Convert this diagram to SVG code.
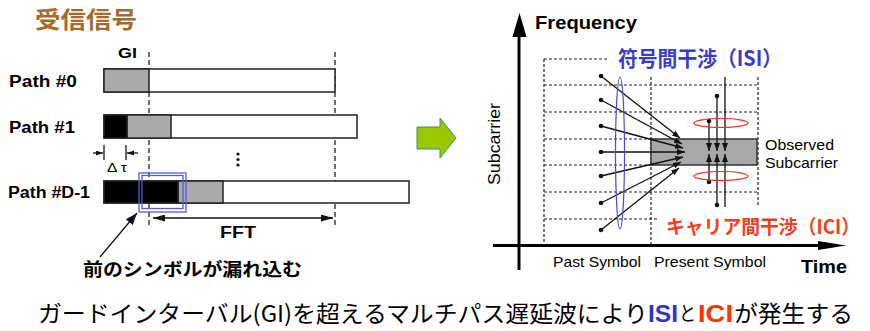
<svg xmlns="http://www.w3.org/2000/svg" width="870" height="331" viewBox="0 0 870 331">
<style>
.lat{font-family:"Liberation Sans",Arial,sans-serif}
.jp{font-family:"Noto Sans CJK JP","Noto Sans",sans-serif}
.b{font-weight:bold}
.bar{stroke:#222;stroke-width:1.5}
.dash{stroke:#222;stroke-width:1.2;stroke-dasharray:3,2;fill:none}
.vdash{stroke:#222;stroke-width:1.3;stroke-dasharray:5,3;fill:none}
.ln{stroke:#111;stroke-width:1.3;fill:none}
.dot{fill:#111}
</style>
<defs>
<marker id="ah" markerUnits="userSpaceOnUse" markerWidth="9" markerHeight="7" refX="8" refY="3" orient="auto">
<path d="M0,0 L8,3 L0,6 z" fill="#111"/>
</marker>
<marker id="ahs" markerUnits="userSpaceOnUse" markerWidth="8" markerHeight="6" refX="7" refY="2.5" orient="auto">
<path d="M0,0 L7,2.5 L0,5 z" fill="#111"/>
</marker>
<marker id="ahb" markerUnits="userSpaceOnUse" markerWidth="13" markerHeight="8" refX="12" refY="3.5" orient="auto">
<path d="M0,0 L12,3.5 L0,7 z" fill="#111"/>
</marker>
<marker id="ahbs" markerUnits="userSpaceOnUse" markerWidth="13" markerHeight="8" refX="0" refY="3.5" orient="auto">
<path d="M12,0 L0,3.5 L12,7 z" fill="#111"/>
</marker>
<marker id="ahp" markerUnits="userSpaceOnUse" markerWidth="13" markerHeight="10" refX="12" refY="4.5" orient="auto">
<path d="M0,0 L12,4.5 L0,9 z" fill="#111"/>
</marker>
</defs>

<text class="jp b" x="35" y="28" font-size="23" fill="#a66a2e" textLength="102" lengthAdjust="spacingAndGlyphs">受信信号</text>

<!-- left: received signal paths -->
<g id="gi-label"><text class="lat b" x="118" y="58" font-size="14" textLength="19" lengthAdjust="spacingAndGlyphs">GI</text></g>
<g id="guides">
<line class="vdash" x1="149" y1="52" x2="149" y2="228"/>
<line class="vdash" x1="335" y1="52" x2="335" y2="227"/>
</g>

<g id="path0">
<text class="lat b" x="9" y="87" font-size="16" textLength="68" lengthAdjust="spacingAndGlyphs">Path #0</text>
<rect class="bar" x="104" y="69" width="231" height="23" fill="#fff"/>
<rect class="bar" x="104" y="69" width="45" height="23" fill="#aaa"/>
</g>
<g id="path1">
<text class="lat b" x="9" y="133" font-size="16" textLength="66" lengthAdjust="spacingAndGlyphs">Path #1</text>
<rect class="bar" x="104" y="115" width="253" height="23" fill="#fff"/>
<rect class="bar" x="127" y="115" width="44" height="23" fill="#aaa"/>
<rect class="bar" x="104" y="115" width="23" height="23" fill="#000"/>
</g>
<g id="delta-tau">
<line class="ln" x1="104" y1="145" x2="104" y2="160"/>
<line class="ln" x1="126" y1="145" x2="126" y2="160"/>
<line class="ln" x1="93" y1="153" x2="103" y2="153" marker-end="url(#ahs)"/>
<line class="ln" x1="138" y1="153" x2="127" y2="153" marker-end="url(#ahs)"/>
<text class="lat" x="107" y="172" font-size="13" textLength="20" lengthAdjust="spacingAndGlyphs">Δ τ</text>
</g>
<g id="vdots">
<circle class="dot" cx="238" cy="154" r="1.6"/>
<circle class="dot" cx="238" cy="159.5" r="1.6"/>
<circle class="dot" cx="238" cy="165" r="1.6"/>
</g>
<g id="pathD1">
<text class="lat b" x="8" y="198" font-size="16" textLength="82" lengthAdjust="spacingAndGlyphs">Path #D-1</text>
<rect class="bar" x="104" y="181" width="305" height="22" fill="#fff"/>
<rect class="bar" x="178" y="181" width="45" height="22" fill="#aaa"/>
<rect class="bar" x="104" y="181" width="74" height="22" fill="#000"/>
</g>
<g id="leak-box">
<rect x="139" y="173" width="47" height="39" fill="none" stroke="#5a5ad8" stroke-width="1.3"/>
<rect x="142" y="175.5" width="41" height="33" fill="none" stroke="#5a5ad8" stroke-width="1.3"/>
</g>
<g id="fft">
<line class="ln" x1="153" y1="218" x2="333" y2="218" marker-start="url(#ahbs)" marker-end="url(#ahb)"/>
<text class="lat b" x="238" y="238" font-size="16" text-anchor="middle" textLength="36" lengthAdjust="spacingAndGlyphs">FFT</text>
</g>
<g id="leak-note">
<line class="ln" x1="100" y1="257" x2="137" y2="213" stroke-width="1.6" marker-end="url(#ahp)"/>
<text class="jp b" x="83" y="276" font-size="18" textLength="219" lengthAdjust="spacingAndGlyphs">前のシンボルが漏れ込む</text>
</g>

<g id="green-arrow">
<polygon points="417,127 440,127 440,118 456,138 440,158 440,149 417,149" fill="#99c800" stroke="#3c8f6e" stroke-width="1"/>
</g>

<!-- right: time-frequency grid -->
<g id="grid">
<line class="dash" x1="544" y1="59" x2="607" y2="59"/>
<line class="dash" x1="544" y1="85" x2="758" y2="85"/>
<line class="dash" x1="544" y1="112" x2="758" y2="112"/>
<line class="dash" x1="544" y1="139" x2="651" y2="139"/>
<line class="dash" x1="544" y1="165" x2="651" y2="165"/>
<line class="dash" x1="544" y1="192" x2="758" y2="192"/>
<line class="dash" x1="544" y1="219" x2="659" y2="219"/>
<line class="dash" x1="544" y1="59" x2="544" y2="246"/>
<line class="dash" x1="651" y1="77" x2="651" y2="246"/>
<line class="dash" x1="758" y1="77" x2="758" y2="207"/>
</g>
<g id="observed">
<rect x="651" y="139" width="106" height="26" fill="#a8a8a8" stroke="#333" stroke-width="1.5"/>
<text class="lat" x="765" y="150" font-size="15" textLength="69" lengthAdjust="spacingAndGlyphs">Observed</text>
<text class="lat" x="765" y="168" font-size="15" textLength="73" lengthAdjust="spacingAndGlyphs">Subcarrier</text>
</g>
<g id="axes">
<line x1="519" y1="270" x2="519" y2="34" stroke="#000" stroke-width="3"/>
<polygon points="512.5,37 519.5,13 526.5,37" fill="#000"/>
<line x1="493" y1="245.5" x2="822" y2="245.5" stroke="#000" stroke-width="3"/>
<polygon points="818,241 846,245.5 818,250" fill="#000"/>
<text class="lat b" x="535" y="29" font-size="18" textLength="102" lengthAdjust="spacingAndGlyphs">Frequency</text>
<text class="lat b" x="801" y="273" font-size="18" textLength="46" lengthAdjust="spacingAndGlyphs">Time</text>
<text class="lat" transform="translate(500,144) rotate(-90)" x="0" y="0" font-size="16" text-anchor="middle" textLength="82" lengthAdjust="spacingAndGlyphs">Subcarrier</text>
<text class="lat" x="553" y="267" font-size="15" textLength="88" lengthAdjust="spacingAndGlyphs">Past Symbol</text>
<text class="lat" x="654" y="267" font-size="15" textLength="112" lengthAdjust="spacingAndGlyphs">Present Symbol</text>
</g>

<g id="connectors">
<g id="isi-arrows">
<line class="ln" x1="601" y1="76" x2="680" y2="138" marker-end="url(#ah)"/>
<line class="ln" x1="601" y1="100" x2="682" y2="144" marker-end="url(#ah)"/>
<line class="ln" x1="601" y1="126" x2="683" y2="148" marker-end="url(#ah)"/>
<line class="ln" x1="601" y1="152" x2="685" y2="152" marker-end="url(#ah)"/>
<line class="ln" x1="601" y1="176" x2="683" y2="157" marker-end="url(#ah)"/>
<line class="ln" x1="601" y1="203" x2="681" y2="162" marker-end="url(#ah)"/>
<line class="ln" x1="601" y1="230" x2="679" y2="168" marker-end="url(#ah)"/>
<circle class="dot" cx="601" cy="76" r="2.3"/>
<circle class="dot" cx="601" cy="100" r="2.3"/>
<circle class="dot" cx="601" cy="126" r="2.3"/>
<circle class="dot" cx="601" cy="152" r="2.3"/>
<circle class="dot" cx="601" cy="176" r="2.3"/>
<circle class="dot" cx="601" cy="203" r="2.3"/>
<circle class="dot" cx="601" cy="230" r="2.3"/>
</g>
<g id="ici-arrows">
<line class="ln" x1="709" y1="121" x2="709" y2="151" marker-end="url(#ah)"/>
<line class="ln" x1="717" y1="96" x2="717" y2="151" marker-end="url(#ah)"/>
<line class="ln" x1="725" y1="77" x2="725" y2="151" marker-end="url(#ah)"/>
<line class="ln" x1="709" y1="182" x2="709" y2="154" marker-end="url(#ah)"/>
<line class="ln" x1="717" y1="205" x2="717" y2="154" marker-end="url(#ah)"/>
<line class="ln" x1="725" y1="207" x2="725" y2="154" marker-end="url(#ah)"/>
<circle class="dot" cx="709" cy="121" r="2.3"/>
<circle class="dot" cx="717" cy="96" r="2.3"/>
<circle class="dot" cx="709" cy="182" r="2.3"/>
<circle class="dot" cx="717" cy="205" r="2.3"/>
</g>
</g>
<g id="isi-group">
<ellipse cx="620" cy="153" rx="4.5" ry="76" fill="none" stroke="#4a4ad8" stroke-width="1.2"/>
<text class="jp b" x="618" y="66" font-size="21" fill="#3a3acc" textLength="164" lengthAdjust="spacingAndGlyphs">符号間干渉（ISI）</text>
</g>
<g id="ici-group">
<ellipse cx="721" cy="123" rx="27" ry="4.5" fill="none" stroke="#ee3322" stroke-width="1.2"/>
<ellipse cx="721" cy="176" rx="27" ry="4.5" fill="none" stroke="#ee3322" stroke-width="1.2"/>
<text class="jp b" x="666" y="234" font-size="19.5" fill="#f2401c" textLength="194" lengthAdjust="spacingAndGlyphs">キャリア間干渉（ICI）</text>
</g>

<g id="caption">
<text class="jp" x="38" y="322" font-size="23" textLength="610" lengthAdjust="spacingAndGlyphs">ガードインターバル(GI)を超えるマルチパス遅延波により</text>
<text class="lat b" x="648" y="322" font-size="23.5" fill="#3333cc" textLength="30" lengthAdjust="spacingAndGlyphs">ISI</text>
<text class="jp" x="679" y="321" font-size="20" textLength="17" lengthAdjust="spacingAndGlyphs">と</text>
<text class="lat b" x="698" y="322" font-size="23.5" fill="#ff3300" textLength="35" lengthAdjust="spacingAndGlyphs">ICI</text>
<text class="jp" x="734" y="322" font-size="23" textLength="119" lengthAdjust="spacingAndGlyphs">が発生する</text>
</g>
</svg>
